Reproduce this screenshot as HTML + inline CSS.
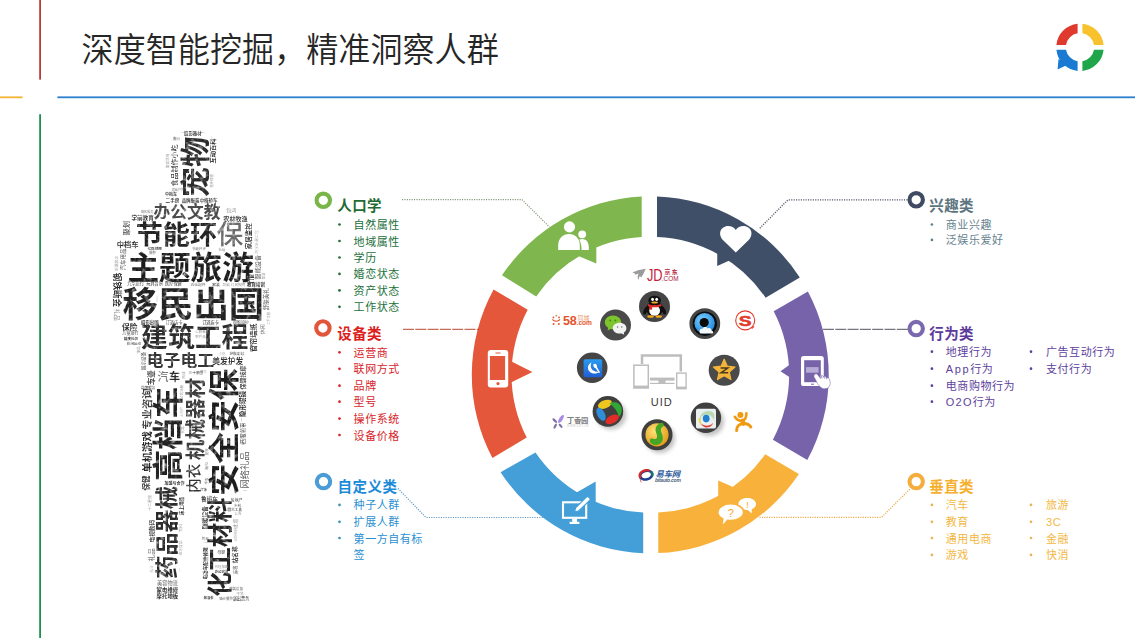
<!DOCTYPE html>
<html lang="zh-CN"><head><meta charset="utf-8"><title>深度智能挖掘，精准洞察人群</title>
<style>
html,body{margin:0;padding:0;background:#fff;}
body{width:1135px;height:638px;overflow:hidden;position:relative;font-family:"Liberation Sans","Noto Sans CJK SC",sans-serif;}
svg{position:absolute;left:0;top:0;}
text{font-family:"Liberation Sans","Noto Sans CJK SC",sans-serif;}
.title{font-size:32.1px;font-weight:350;fill:#262626;}
.h{font-size:14.5px;font-weight:700;letter-spacing:0.45px;}
.it{font-size:11px;letter-spacing:0.55px;}
</style></head><body>
<svg width="1135" height="638" viewBox="0 0 1135 638">
<!-- frame lines -->
<rect x="39.2" y="0" width="1.8" height="79.6" fill="#b83b35"/>
<rect x="0" y="96.4" width="22.6" height="1.8" fill="#f2b535"/>
<rect x="57.4" y="96.4" width="1078" height="1.8" fill="#2b7fcf"/>
<rect x="39.2" y="114.2" width="1.8" height="524" fill="#1f8f4e"/>
<text class="title" transform="translate(0 48.7) scale(1 1.07) translate(0 -48.5)" x="81.6" y="61">深度智能挖掘，精准洞察人群</text>
<!--LOGO-->
<path d="M1077.60 23.72 A23.7 23.7 0 0 0 1056.42 44.90 L1066.00 44.90 A14.2 14.2 0 0 1 1077.60 33.30 Z" fill="#e0392d"/>
<path d="M1082.40 23.72 A23.7 23.7 0 0 1 1103.58 44.90 L1094.00 44.90 A14.2 14.2 0 0 0 1082.40 33.30 Z" fill="#f8c22e"/>
<path d="M1082.40 70.88 A23.7 23.7 0 0 0 1103.58 49.70 L1094.00 49.70 A14.2 14.2 0 0 1 1082.40 61.30 Z" fill="#1fa64a"/>
<path d="M1077.60 70.88 A23.7 23.7 0 0 1 1056.42 49.70 L1066.00 49.70 A14.2 14.2 0 0 0 1077.60 61.30 Z" fill="#1b7bd3"/>
<polygon points="1058.5,59 1057.6,69.6 1068,64.5" fill="#1b7bd3"/>
<!--RING-->
<path d="M657.0 196.4 A178.5 178.5 0 0 1 799.8 277.4 L765.6 297.7 A138.0 138.0 0 0 0 657.0 237.0 Z" fill="#3f4f67"/>
<polygon points="717.3,250.0 717.2,266.0 730.5,260.0" fill="#3f4f67"/>
<path d="M807.9 291.5 A178.5 178.5 0 0 1 807.3 460.1 L772.9 439.7 A138.0 138.0 0 0 0 773.7 311.2 Z" fill="#7663aa"/>
<polygon points="790.0,364.5 780.5,371.3 790.0,377.5" fill="#7663aa"/>
<path d="M798.9 474.0 A178.5 178.5 0 0 1 658.3 553.1 L658.3 512.5 A138.0 138.0 0 0 0 765.2 454.3 Z" fill="#f8b13a"/>
<polygon points="733.4,488.6 732.0,486.4 718.2,480.4 718.2,498.0" fill="#f8b13a"/>
<path d="M643.2 553.2 A178.5 178.5 0 0 1 500.6 472.2 L535.5 452.4 A138.0 138.0 0 0 0 643.2 512.6 Z" fill="#449fd8"/>
<polygon points="595.7,504.0 595.7,481.5 576.6,492.4 575.4,494.4" fill="#449fd8"/>
<path d="M492.4 458.1 A178.5 178.5 0 0 1 493.6 289.4 L527.7 309.8 A138.0 138.0 0 0 0 526.7 437.6 Z" fill="#e4573a"/>
<polygon points="511.0,361.3 532.4,372.0 511.0,382.6" fill="#e4573a"/>
<path d="M502.0 275.3 A178.5 178.5 0 0 1 641.7 196.5 L641.7 237.0 A138.0 138.0 0 0 0 536.2 296.4 Z" fill="#7fb74e"/>
<polygon points="578.2,254.2 579.6,256.5 596.3,263.6 596.3,243.5" fill="#7fb74e"/>
<!--ICONS-->

<!-- people (green) -->
<g fill="#fff">
<circle cx="569.5" cy="226.9" r="5.6"/>
<path d="M558.2 250 V245 C558.2 238.5 563 234 569 234 C575 234 579.8 238.5 579.8 245 V250 Z"/>
<circle cx="582.2" cy="234.3" r="3.9"/>
<path d="M581.6 250 C581.6 245.5 580.6 242 579.2 239.6 C580.2 239.2 581.2 239 582.4 239 C586.4 239 588.8 242.6 588.8 247 V250 Z"/>
</g>
<!-- heart (navy) -->
<path fill="#fff" d="M735.8 252.6 L723.4 240.6 C718.3 235.4 719.2 228.2 725.4 226.4 C729.6 225.3 733.8 226.8 735.8 230 C737.8 226.8 742 225.3 746.2 226.4 C752.4 228.2 753.3 235.4 748.2 240.6 Z"/>
<!-- tablet + hand (purple) -->
<rect x="801" y="356" width="22.8" height="30" rx="2.6" fill="#fff"/>
<rect x="804.2" y="360.2" width="16.6" height="22" fill="#7663aa"/>
<rect x="806" y="367.1" width="12.6" height="5.6" fill="#b7abd8"/>
<rect x="811.2" y="383.7" width="2.6" height="1.1" fill="#7663aa"/>
<path fill="#fff" stroke="#7663aa" stroke-width="0.5" d="M814.6 374.4 C815.6 373.4 817 373.8 817.8 374.9 L820.6 378.6 L820.2 376 C821 375 822.2 375 822.9 375.9 L823.6 377 C824.3 376 825.5 376.1 826.2 377 L826.9 378.2 C827.7 377.5 828.8 377.8 829.3 378.8 C830.6 381.6 830.6 384.6 829.2 386.6 C827.6 388.8 824.4 389.4 822 388.2 C820.4 387.4 819 385.6 817.6 383.6 L814.2 377.2 C813.7 376.2 813.8 375.2 814.6 374.4 Z"/>
<path d="M821.2 375.6 L822.2 378.4 M823.7 375.9 L824.5 378.6 M826 376.8 L826.5 379.2" stroke="#7663aa" stroke-width="0.7" fill="none"/>
<!-- bubbles (orange) -->
<g>
<path fill="#fff" d="M747.2 498 C752.2 498 756.1 500.7 756.1 504 C756.1 506.2 754.4 508.1 751.9 509.2 L751.6 513.6 L747.9 510 C747.7 510 747.4 510 747.2 510 C742.2 510 738.3 507.3 738.3 504 C738.3 500.7 742.2 498 747.2 498 Z"/>
<path fill="#fff" stroke="#f8b13a" stroke-width="1.6" d="M730.7 503.8 C737.8 503.8 743.6 507.6 743.6 512.2 C743.6 516.8 737.8 520.6 730.7 520.6 C729.6 520.6 728.6 520.5 727.6 520.3 L721.6 527 L722.8 518.9 C719.9 517.4 717.8 515 717.8 512.2 C717.8 507.6 723.6 503.8 730.7 503.8 Z"/>
<text x="730.9" y="517" font-size="11" font-weight="400" fill="#f5a623" text-anchor="middle" style="font-family:'Liberation Sans',sans-serif">?</text>
<text x="747.4" y="507.8" font-size="9" font-weight="400" fill="#f5a623" text-anchor="middle" style="font-family:'Liberation Sans',sans-serif">!</text>
</g>
<!-- monitor + pencil (blue) -->
<g>
<rect x="563" y="502.3" width="23.2" height="15.5" fill="none" stroke="#fff" stroke-width="2.1"/>
<rect x="572.2" y="518.6" width="4.8" height="3.4" fill="#fff"/>
<rect x="569.6" y="521.8" width="9.8" height="2.2" fill="#fff"/>
<path d="M574.6 511.8 L575.6 507.9 L586.3 497.2 C587 496.5 588 496.5 588.7 497.2 L589.6 498.1 C590.3 498.8 590.3 499.8 589.6 500.5 L578.6 511 Z" fill="#fff" stroke="#449fd8" stroke-width="1.1"/>
</g>
<!-- phone (red) -->
<g>
<rect x="487.8" y="350" width="20.4" height="37.4" rx="3" fill="#fff"/>
<rect x="489.9" y="356" width="15.2" height="24" fill="#e4573a"/>
<circle cx="498" cy="383.6" r="1.6" fill="#e4573a"/>
<rect x="495.3" y="352.6" width="5.4" height="1" rx="0.5" fill="#e4573a"/>
</g>

<!--CENTER-->

<defs>
<filter id="sh" x="-40%" y="-40%" width="190%" height="190%"><feGaussianBlur stdDeviation="2.2"/></filter>
<radialGradient id="gBlue" cx="40%" cy="35%" r="70%"><stop offset="0" stop-color="#7fd0ff"/><stop offset="1" stop-color="#1c86e0"/></radialGradient>
<radialGradient id="gGold" cx="40%" cy="35%" r="70%"><stop offset="0" stop-color="#ffe27a"/><stop offset="1" stop-color="#e09a12"/></radialGradient>
</defs>
<!-- devices -->
<g fill="none" stroke="#bdbdbd">
<path d="M642 364 V355.6 H680.8 V371.5" stroke-width="2.5"/>
<rect x="650" y="377.6" width="24.5" height="3" fill="#bdbdbd" stroke="none"/>
<rect x="650" y="382.8" width="24.5" height="1.2" fill="#bdbdbd" stroke="none"/>
<rect x="658.5" y="380" width="7" height="3" fill="#bdbdbd" stroke="none"/>
<rect x="633.9" y="365.2" width="14.4" height="22.8" stroke-width="1.5" fill="#fff"/>
<rect x="633.9" y="385.6" width="14.4" height="2.4" fill="#bdbdbd" stroke="none"/>
<rect x="676.7" y="373.1" width="9.4" height="15.6" stroke-width="1.4" fill="#fff"/>
<rect x="676.7" y="386.6" width="9.4" height="2" fill="#bdbdbd" stroke="none"/>
</g>
<text x="661.8" y="406" font-size="11" fill="#3a3a3a" text-anchor="middle" letter-spacing="1">UID</text>

<!-- JD -->
<g>
<path d="M632.4 272.6 L638 270.2 L645.8 268.8 L643.6 273.6 L641.2 277.6 L639.8 276 L638.2 280 L637.6 276.2 L638.6 273.4 L635.4 274.8 L634.6 273.2 Z" fill="#9a9c9c"/>
<text transform="translate(646.9 280.9) scale(0.8 1)" font-size="16" font-weight="400" fill="#c4203a" style="font-family:'Liberation Sans',sans-serif">JD</text>
<text x="664.4" y="273.9" font-size="5.9" font-weight="700" fill="#b8243e" letter-spacing="1.5">京东</text>
<text x="661.8" y="280.9" font-size="6.4" font-weight="400" fill="#a8203c" letter-spacing="0" style="font-family:'Liberation Sans',sans-serif">.COM</text>
</g>
<!-- 58 -->
<g fill="#e2552c">
<circle cx="553.4" cy="317.4" r="0.9"/><circle cx="559" cy="317.4" r="0.9"/><circle cx="556.2" cy="315.8" r="0.8"/>
<path d="M552 319.4 C553.5 322.4 558.9 322.4 560.4 319.4 L559.4 319 C558.2 321.2 554.2 321.2 553 319 Z"/>
<circle cx="553.6" cy="324" r="1"/><circle cx="558.8" cy="324" r="1"/>
<text x="563" y="324.9" font-size="12.6" font-weight="700" letter-spacing="-0.2" style="font-family:'Liberation Sans',sans-serif">58</text>
<text x="577.8" y="320" font-size="5.6" letter-spacing="0.3" fill="#e98f62">同城</text>
<text x="576.6" y="325" font-size="6.6" font-weight="700" style="font-family:'Liberation Sans',sans-serif">.com</text>
</g>
<!-- sogou -->
<g>
<circle cx="745.2" cy="320.4" r="9.5" fill="#fff" stroke="#e23a2c" stroke-width="1.1"/>
<path d="M751.6 328.6 L754.2 326.4" stroke="#e23a2c" stroke-width="1.2"/>
<text x="745" y="326" font-size="15.4" font-weight="700" fill="#e23a2c" stroke="#e23a2c" stroke-width="0.5" text-anchor="middle" transform="translate(745.2 -0.3) scale(1.25 1) translate(-745 0)" style="font-family:'Liberation Sans',sans-serif">S</text>
</g>
<!-- dingxiangyuan -->
<g>
<ellipse cx="561" cy="419" rx="1.7" ry="4.6" transform="rotate(32 561 419)" fill="#a88be6"/>
<ellipse cx="554.8" cy="420.6" rx="1.3" ry="3" transform="rotate(-48 554.8 420.6)" fill="#7f73a8"/>
<ellipse cx="555.2" cy="426.2" rx="1.2" ry="2.8" transform="rotate(28 555.2 426.2)" fill="#7f73a8"/>
<ellipse cx="560.6" cy="425.8" rx="1.2" ry="2.6" transform="rotate(-42 560.6 425.8)" fill="#7f73a8"/>
<text x="566.8" y="422.8" font-size="7.4" font-weight="700" fill="#808080" letter-spacing="-0.3">丁香园</text>
<text x="567" y="426.9" font-size="2.6" fill="#c4c4c4" letter-spacing="0.45" style="font-family:'Liberation Sans',sans-serif">WWW.DXY.CN</text>
</g>
<!-- bitauto -->
<g>
<g transform="rotate(-14 646.2 475.1)">
<ellipse cx="646.2" cy="475.1" rx="6.1" ry="4.3" fill="#fff" stroke="#1d3f8f" stroke-width="2.6"/>
<path d="M640.2 476.4 A6.1 4.3 0 0 1 650.6 472" fill="none" stroke="#d6262d" stroke-width="2.4"/>
<path d="M651.4 472.6 A6.1 4.3 0 0 1 651.6 477.4" fill="none" stroke="#17786a" stroke-width="2.2"/>
</g>
<path d="M640 478.6 L641.2 482.4" stroke="#d6262d" stroke-width="0.7"/>
<text x="655.6" y="476.6" font-size="8.3" font-weight="700" font-style="italic" fill="#2c5c9c" letter-spacing="-0.2">易车网</text>
<text x="655" y="481.5" font-size="5" font-style="italic" font-weight="700" fill="#4a5f7c" letter-spacing="-0.25" style="font-family:'Liberation Sans',sans-serif">bitauto.com</text>
</g>
<!-- dianping -->
<g fill="none" stroke="#f09a12" stroke-linecap="round" stroke-linejoin="round">
<circle cx="740.4" cy="415" r="3" fill="#f09a12" stroke="none"/>
<path d="M734.8 416.8 C736.6 419.6 739.6 421.2 742.6 420.6 C745.2 419.8 746.4 416.6 746.4 413.2" stroke-width="2.6"/>
<path d="M742.4 420.8 L743.6 423.6" stroke-width="4.4"/>
<path d="M736.6 430.6 C736.4 426.6 739.4 423.4 743.6 423.4 C746.8 423.4 749.6 424.8 750.8 427" stroke-width="3"/>
</g>
<!-- app circles -->
<g>
<!-- QQ -->
<circle cx="654.5" cy="306.5" r="15.5" fill="#454545"/>
<g transform="translate(654.5 307.4) scale(1.28 1.03) translate(-654.5 -308.4)">
<ellipse cx="647.6" cy="311.4" rx="1.5" ry="4" transform="rotate(18 647.6 311.4)" fill="#111"/><ellipse cx="661.6" cy="311.4" rx="1.5" ry="4" transform="rotate(-18 661.6 311.4)" fill="#111"/>
<ellipse cx="654.6" cy="309.8" rx="6.6" ry="7.4" fill="#111"/>
<ellipse cx="654.6" cy="301.6" rx="4.9" ry="4.6" fill="#111"/>
<ellipse cx="654.6" cy="311.6" rx="4.2" ry="5" fill="#fff"/>
<ellipse cx="653" cy="300.6" rx="1.1" ry="1.6" fill="#fff"/><ellipse cx="656.2" cy="300.6" rx="1.1" ry="1.6" fill="#fff"/>
<ellipse cx="654.6" cy="303.6" rx="2.6" ry="1" fill="#f5a81c"/>
<path d="M649.6 305 C652.6 306.8 656.6 306.8 659.6 305 L660 307 C657 308.8 652.2 308.8 649.2 307 Z" fill="#e22b26"/>
<rect x="650.4" y="306.6" width="2.2" height="4" fill="#e22b26"/>
<ellipse cx="651.4" cy="317.2" rx="2.6" ry="1.2" fill="#f5a81c"/><ellipse cx="657.8" cy="317.2" rx="2.6" ry="1.2" fill="#f5a81c"/>
</g>
<!-- WeChat -->
<circle cx="615.5" cy="325.1" r="15.5" fill="#4a4a4a"/>
<path d="M613 315.6 C617.6 315.6 621.2 318.6 621.2 322.4 C621.2 326.2 617.6 329.2 613 329.2 C612.2 329.2 611.4 329.1 610.6 328.9 L607.6 330.6 L608.2 327.8 C606.2 326.6 604.8 324.6 604.8 322.4 C604.8 318.6 608.4 315.6 613 315.6 Z" fill="#7cc52c"/>
<circle cx="610.2" cy="320.6" r="1" fill="#4d8a12"/><circle cx="615.4" cy="320.6" r="1" fill="#4d8a12"/>
<path d="M619.6 322.8 C623.4 322.8 626.4 325.2 626.4 328.2 C626.4 330 625.4 331.5 623.8 332.5 L624.2 334.8 L621.8 333.4 C621.1 333.5 620.4 333.6 619.6 333.6 C615.8 333.6 612.8 331.2 612.8 328.2 C612.8 325.2 615.8 322.8 619.6 322.8 Z" fill="#f2f2f2"/>
<circle cx="617.6" cy="327" r="0.8" fill="#777"/><circle cx="621.8" cy="327" r="0.8" fill="#777"/>
<!-- QQ browser -->
<circle cx="704.8" cy="323.7" r="15.4" fill="#454545"/>
<circle cx="704.8" cy="323.7" r="12.2" fill="#0b0b0b"/>
<circle cx="704.6" cy="323.2" r="10.2" fill="url(#gBlue)"/>
<circle cx="704.2" cy="322.6" r="4.6" fill="#0b0b0b"/>
<path d="M699.6 332 C699 329.6 700.8 328.2 702.6 328.8 C703.4 326.6 706.6 326.4 707.6 328.4 C709.2 327.2 711.6 328.4 711.4 330.4 C713.4 330.6 713.8 333 712 333.6 L700.6 333.6 C699.8 333.4 699.6 332.6 699.6 332 Z" fill="#f4f8fb"/>
<!-- blue Q app -->
<circle cx="592.2" cy="367.8" r="15.3" fill="#454545"/>
<linearGradient id="gQ" x1="0" y1="0" x2="0" y2="1"><stop offset="0" stop-color="#2a9cef"/><stop offset="1" stop-color="#1f5fd6"/></linearGradient>
<rect x="583.6" y="359.2" width="18.6" height="18" rx="1.6" fill="url(#gQ)"/>
<path d="M591.6 362.6 C587.6 364.2 586.6 369.2 590 372 C593 374.4 597.6 373.8 599.6 371.4 C596.4 372.2 592.8 371.4 591.4 368.6 C590.4 366.6 590.6 364.2 591.6 362.6 Z" fill="#fff"/>
<path d="M593.4 364.2 C594.6 363.2 596.4 363.6 596.8 365.2 L597 367 L600 372.4 L599 373 L595.6 368.2 C594 368 593 366 593.4 364.2 Z" fill="#fff"/>
<!-- Qzone -->
<circle cx="724.2" cy="370.3" r="15.5" fill="#4a4a4a"/>
<path d="M724.2 359.2 L727.3 366.2 L735 367 L729.3 372.1 L730.9 379.6 L724.2 375.8 L717.5 379.6 L719.1 372.1 L713.4 367 L721.1 366.2 Z" fill="#f4b43a" stroke="#f4b43a" stroke-width="1.2" stroke-linejoin="round"/>
<path d="M720.6 368 H727.8 L721 372.8 H728.2" fill="none" stroke="#4a3a1a" stroke-width="1.5"/>
<!-- pinwheel -->
<ellipse cx="611.2" cy="415" rx="15" ry="14.6" fill="#000" opacity="0.24" filter="url(#sh)"/>
<circle cx="607.9" cy="411.4" r="15.3" fill="#3f3f3f"/>
<ellipse cx="604.9" cy="404.3" rx="7.3" ry="4" transform="rotate(-22 604.9 404.3)" fill="#f0c61e"/>
<path d="M609.6 403.6 C613.6 400.6 619.8 402.4 621.4 407.2 C622.4 410.6 621.4 414.4 618.8 417 C617.6 411.6 614.6 407.4 609.6 403.6 Z" fill="#2fa836"/>
<ellipse cx="612.2" cy="419.3" rx="7.3" ry="4" transform="rotate(-28 612.2 419.3)" fill="#e22c27"/>
<ellipse cx="601" cy="414.2" rx="3.8" ry="7.1" transform="rotate(-28 601 414.2)" fill="#2f8edb"/>
<!-- QQ music -->
<ellipse cx="660" cy="438.4" rx="15" ry="14.6" fill="#000" opacity="0.24" filter="url(#sh)"/>
<circle cx="657" cy="434.8" r="15.5" fill="#3f3f3f"/>
<circle cx="657" cy="434.8" r="11.6" fill="url(#gGold)"/>
<path d="M662.6 422.6 C657.6 423.6 654.6 427.4 655.8 431.6 C656.6 434.4 657.8 436.2 656.8 438 C655.8 439.6 654 439 652.6 438.4 C650.2 437.4 648.8 440.8 650.8 443 C653.6 446 659.4 445.6 661.8 441.8 C664 438.4 662.4 435 661.4 432.4 C660.4 429.6 661 427 664.2 425.4 Z" fill="#43a626"/>
<!-- weibo -->
<ellipse cx="709" cy="421.4" rx="15" ry="14.6" fill="#000" opacity="0.24" filter="url(#sh)"/>
<circle cx="705.9" cy="417.8" r="15.2" fill="#3f3f3f"/>
<rect x="696" y="408.8" width="20" height="19.6" rx="1.6" fill="#e9eef0"/>
<path d="M699.6 420 C699.6 413 706 409.6 711.6 411.6 C714.6 413 715.2 417 713.6 420 C712.2 415 706 413 701.6 416.4 C700.4 417.6 699.8 418.8 699.6 420 Z" fill="#b9d8b0"/>
<path d="M698.8 418 C698.2 421.6 699.6 424.6 702.6 426 C700.6 423.4 700.2 420.4 701.2 417.4 Z" fill="#e8d84a"/>
<ellipse cx="706.2" cy="418.6" rx="3.4" ry="3.8" fill="#1f7fd0"/>
<path d="M701.2 423.6 C704.2 426.6 710.2 426.2 713 423 C712.4 426.2 708.6 428 705 427.2 C703.2 426.8 701.8 425.4 701.2 423.6 Z" fill="#e0382c"/>
<path d="M702 421.4 C704.4 424.4 709.4 424.4 711.4 421.6 C710.8 424.4 703.6 425.6 702 421.4 Z" fill="#fff"/>
</g>

<!--LABELS-->
<circle cx="323.3" cy="200.3" r="6.7" fill="#fff" stroke="#7ab547" stroke-width="4.1"/>
<text class="h" x="337.2" y="210.8" fill="#1f6b32">人口学</text>
<circle cx="339.5" cy="224.5" r="1.35" fill="#23703a"/>
<text class="it" x="353.6" y="229" fill="#23703a">自然属性</text>
<circle cx="339.5" cy="241.0" r="1.35" fill="#23703a"/>
<text class="it" x="353.6" y="245.5" fill="#23703a">地域属性</text>
<circle cx="339.5" cy="257.5" r="1.35" fill="#23703a"/>
<text class="it" x="353.6" y="262" fill="#23703a">学历</text>
<circle cx="339.5" cy="273.9" r="1.35" fill="#23703a"/>
<text class="it" x="353.6" y="278.4" fill="#23703a">婚恋状态</text>
<circle cx="339.5" cy="290.4" r="1.35" fill="#23703a"/>
<text class="it" x="353.6" y="294.9" fill="#23703a">资产状态</text>
<circle cx="339.5" cy="306.8" r="1.35" fill="#23703a"/>
<text class="it" x="353.6" y="311.3" fill="#23703a">工作状态</text>
<circle cx="322.9" cy="328" r="6.7" fill="#fff" stroke="#e2553a" stroke-width="4.1"/>
<text class="h" x="337.2" y="338.8" fill="#dc1f1f">设备类</text>
<circle cx="339.5" cy="352.3" r="1.35" fill="#d8242a"/>
<text class="it" x="353.6" y="356.8" fill="#d8242a">运营商</text>
<circle cx="339.5" cy="368.8" r="1.35" fill="#d8242a"/>
<text class="it" x="353.6" y="373.3" fill="#d8242a">联网方式</text>
<circle cx="339.5" cy="385.7" r="1.35" fill="#d8242a"/>
<text class="it" x="353.6" y="390.2" fill="#d8242a">品牌</text>
<circle cx="339.5" cy="401.7" r="1.35" fill="#d8242a"/>
<text class="it" x="353.6" y="406.2" fill="#d8242a">型号</text>
<circle cx="339.5" cy="418.6" r="1.35" fill="#d8242a"/>
<text class="it" x="353.6" y="423.1" fill="#d8242a">操作系统</text>
<circle cx="339.5" cy="435.0" r="1.35" fill="#d8242a"/>
<text class="it" x="353.6" y="439.5" fill="#d8242a">设备价格</text>
<circle cx="323.5" cy="481.6" r="6.7" fill="#fff" stroke="#4b9cd6" stroke-width="4.1"/>
<text class="h" x="337.6" y="491.7" fill="#1b8ad8">自定义类</text>
<circle cx="339.5" cy="504.9" r="1.35" fill="#3a8fc4"/>
<text class="it" x="353.6" y="509.4" fill="#2b90d2">种子人群</text>
<circle cx="339.5" cy="521.8" r="1.35" fill="#3a8fc4"/>
<text class="it" x="353.6" y="526.3" fill="#2b90d2">扩展人群</text>
<circle cx="339.5" cy="538.0" r="1.35" fill="#3a8fc4"/>
<text class="it" x="353.6" y="542.5" fill="#2b90d2">第一方自有标</text>
<text class="it" x="353.6" y="559.4" fill="#2b90d2">签</text>
<circle cx="916.2" cy="199.8" r="6.7" fill="#fff" stroke="#3f4a63" stroke-width="4.1"/>
<text class="h" x="929.2" y="210.8" fill="#5d7580">兴趣类</text>
<circle cx="931.9" cy="224.5" r="1.35" fill="#64828e"/>
<text class="it" x="945.8" y="229" fill="#64828e">商业兴趣</text>
<circle cx="931.9" cy="239.9" r="1.35" fill="#64828e"/>
<text class="it" x="945.8" y="244.4" fill="#64828e">泛娱乐爱好</text>
<circle cx="916.2" cy="328.6" r="6.7" fill="#fff" stroke="#7a69af" stroke-width="4.1"/>
<text class="h" x="929.2" y="338.8" fill="#5b3a9c">行为类</text>
<circle cx="931.9" cy="351.7" r="1.35" fill="#5d3f9d"/>
<text class="it" x="945.8" y="356.2" fill="#5d3f9d">地理行为</text>
<circle cx="931.9" cy="368.7" r="1.35" fill="#5d3f9d"/>
<text class="it" x="945.8" y="373.2" fill="#5d3f9d"><tspan letter-spacing="1.6">App</tspan>行为</text>
<circle cx="931.9" cy="385.7" r="1.35" fill="#5d3f9d"/>
<text class="it" x="945.8" y="390.2" fill="#5d3f9d">电商购物行为</text>
<circle cx="931.9" cy="401.7" r="1.35" fill="#5d3f9d"/>
<text class="it" x="945.8" y="406.2" fill="#5d3f9d"><tspan letter-spacing="1.25">O2O</tspan>行为</text>
<circle cx="1031" cy="351.7" r="1.35" fill="#5d3f9d"/>
<text class="it" x="1046" y="356.2" fill="#5d3f9d">广告互动行为</text>
<circle cx="1031" cy="368.7" r="1.35" fill="#5d3f9d"/>
<text class="it" x="1046" y="373.2" fill="#5d3f9d">支付行为</text>
<circle cx="916.2" cy="481.6" r="6.7" fill="#fff" stroke="#f3ae3d" stroke-width="4.1"/>
<text class="h" x="929.2" y="491.7" fill="#f5b030">垂直类</text>
<circle cx="931.9" cy="504.9" r="1.35" fill="#e8b45a"/>
<text class="it" x="945.8" y="509.4" fill="#f3b743">汽车</text>
<circle cx="931.9" cy="521.8" r="1.35" fill="#e8b45a"/>
<text class="it" x="945.8" y="526.3" fill="#f3b743">教育</text>
<circle cx="931.9" cy="538.0" r="1.35" fill="#e8b45a"/>
<text class="it" x="945.8" y="542.5" fill="#f3b743">通用电商</text>
<circle cx="931.9" cy="554.9" r="1.35" fill="#e8b45a"/>
<text class="it" x="945.8" y="559.4" fill="#f3b743">游戏</text>
<circle cx="1031" cy="504.9" r="1.35" fill="#e8b45a"/>
<text class="it" x="1046" y="509.4" fill="#f3b743">旅游</text>
<circle cx="1031" cy="521.8" r="1.35" fill="#e8b45a"/>
<text class="it" x="1046" y="526.3" fill="#f3b743">3C</text>
<circle cx="1031" cy="538.0" r="1.35" fill="#e8b45a"/>
<text class="it" x="1046" y="542.5" fill="#f3b743">金融</text>
<circle cx="1031" cy="554.9" r="1.35" fill="#e8b45a"/>
<text class="it" x="1046" y="559.4" fill="#f3b743">快消</text>
<polyline points="402,199.6 521.9,199.6 549.5,227" fill="none" stroke="#7f9473" stroke-width="1.2" stroke-dasharray="1.1 1.3"/>
<polyline points="403,329.3 479,329.3" fill="none" stroke="#b8472f" stroke-width="1.0" stroke-dasharray="11 1.3"/>
<polyline points="398,488.5 426,517.5 544,517.5" fill="none" stroke="#5a95c4" stroke-width="1.2" stroke-dasharray="1.1 1.3"/>
<polyline points="907.5,199.8 788,199.8 759,229" fill="none" stroke="#4a5262" stroke-width="1.3" stroke-dasharray="1.1 1.3"/>
<polyline points="823,329.3 908,329.3" fill="none" stroke="#55525f" stroke-width="1.0" stroke-dasharray="11 1.3"/>
<polyline points="759.5,517.4 881.4,517.4 910,489" fill="none" stroke="#eaa53c" stroke-width="1.2" stroke-dasharray="1.1 1.3"/>
<!--CLOUD-->
<filter id="tx" x="0" y="0" width="100%" height="100%" filterUnits="objectBoundingBox"><feTurbulence type="fractalNoise" baseFrequency="0.22" numOctaves="3" seed="7" result="n"/><feColorMatrix in="n" type="matrix" values="0 0 0 0 0  0 0 0 0 0  0 0 0 0 0  1.5 0 0 0 0.24" result="m"/><feComposite in="SourceGraphic" in2="m" operator="in"/></filter>
<g class="cloud" filter="url(#tx)">
<text transform="translate(195.2 167.0) rotate(-90) scale(1.03 1)" y="10.66" font-size="29.6" font-weight="700" fill="#2b2b2b" text-anchor="middle">宠物</text>
<text transform="translate(187.0 212.3)" y="6.05" font-size="16.8" font-weight="700" fill="#484848" text-anchor="middle">办公文教</text>
<text transform="translate(176.4 234.8) scale(1.02 1)" y="9.58" font-size="26.6" font-weight="700" fill="#222" text-anchor="middle">节能环</text>
<text transform="translate(230.0 234.8)" y="9.58" font-size="26.6" font-weight="500" fill="#6a6a6a" text-anchor="middle">保</text>
<text transform="translate(190.6 267.6)" y="11.38" font-size="31.6" font-weight="700" fill="#1c1c1c" text-anchor="middle">主题旅游</text>
<text transform="translate(193.4 304.6) scale(1.012 1)" y="12.60" font-size="35" font-weight="700" fill="#222" text-anchor="middle">移民出国</text>
<text transform="translate(194.7 337.6)" y="9.65" font-size="26.8" font-weight="700" fill="#2a2a2a" text-anchor="middle">建筑工程</text>
<text transform="translate(180.4 360.6) scale(1.035 1)" y="5.87" font-size="16.3" font-weight="700" fill="#333" text-anchor="middle">电子电工</text>
<text transform="translate(227.8 361.4)" y="2.81" font-size="7.8" font-weight="700" fill="#333" text-anchor="middle">美发护发</text>
<text transform="translate(223.7 432.0) rotate(-90) scale(1.02 1)" y="11.23" font-size="31.2" font-weight="700" fill="#1e1e1e" text-anchor="middle">安全安保</text>
<text transform="translate(168.6 434.0) rotate(-90) scale(1.04 1)" y="10.87" font-size="30.2" font-weight="700" fill="#222" text-anchor="middle">高档车</text>
<text transform="translate(195.3 419.0) rotate(-90)" y="7.42" font-size="20.6" font-weight="700" fill="#3a3a3a" text-anchor="middle">机械器材</text>
<text transform="translate(146.8 451.9) rotate(-90)" y="3.71" font-size="10.3" font-weight="700" fill="#222" text-anchor="middle">单机游戏</text>
<text transform="translate(147.0 409.0) rotate(-90)" y="3.67" font-size="10.2" font-weight="700" fill="#3c3c3c" text-anchor="middle">专业咨询</text>
<text transform="translate(194.2 478.3) rotate(-90)" y="5.18" font-size="14.4" font-weight="500" fill="#333" text-anchor="middle">内衣</text>
<text transform="translate(166.4 532.4) rotate(-90) scale(1.025 1)" y="8.14" font-size="22.6" font-weight="700" fill="#2a2a2a" text-anchor="middle">药品器械</text>
<text transform="translate(220.6 547.2) rotate(-90)" y="8.89" font-size="24.7" font-weight="700" fill="#222" text-anchor="middle">化工材料</text>
<text transform="translate(192.8 133.4)" y="1.58" font-size="4.4" font-weight="700" fill="#444" text-anchor="middle">摄影器材</text>
<text transform="translate(183.5 133.4)" y="1.44" font-size="4" font-weight="400" fill="#8a8a8a" text-anchor="middle">一</text>
<text transform="translate(202.5 133.4)" y="1.44" font-size="4" font-weight="400" fill="#8a8a8a" text-anchor="middle">一</text>
<text transform="translate(176.5 139.0)" y="1.15" font-size="3.2" font-weight="700" fill="#666" text-anchor="middle">数码</text>
<text transform="translate(174.6 165.5) rotate(-90)" y="2.52" font-size="7" font-weight="500" fill="#3a3a3a" text-anchor="middle">食品制作小吃</text>
<text transform="translate(167.2 161.0) rotate(-90)" y="1.30" font-size="3.6" font-weight="400" fill="#8a8a8a" text-anchor="middle">聚会活动</text>
<text transform="translate(212.4 151.0) rotate(-90)" y="2.23" font-size="6.2" font-weight="700" fill="#333" text-anchor="middle">互动百科</text>
<text transform="translate(211.5 138.0)" y="1.08" font-size="3" font-weight="400" fill="#8a8a8a" text-anchor="middle">丨</text>
<text transform="translate(212.0 181.0) rotate(-90)" y="1.22" font-size="3.4" font-weight="400" fill="#8a8a8a" text-anchor="middle">花卉绿植</text>
<text transform="translate(178.0 190.0)" y="1.15" font-size="3.2" font-weight="400" fill="#666" text-anchor="middle">运动户外</text>
<text transform="translate(171.0 194.3)" y="1.44" font-size="4" font-weight="700" fill="#444" text-anchor="middle">中档车</text>
<text transform="translate(172.5 200.4)" y="1.66" font-size="4.6" font-weight="700" fill="#333" text-anchor="middle">二手房</text>
<text transform="translate(190.5 200.4)" y="1.58" font-size="4.4" font-weight="700" fill="#444" text-anchor="middle">品牌服装</text>
<text transform="translate(208.5 200.4)" y="1.58" font-size="4.4" font-weight="700" fill="#333" text-anchor="middle">中档轿车</text>
<text transform="translate(147.0 211.6)" y="1.15" font-size="3.2" font-weight="400" fill="#8a8a8a" text-anchor="middle">婚庆服务</text>
<text transform="translate(142.6 218.0)" y="2.02" font-size="5.6" font-weight="700" fill="#333" text-anchor="middle">学前教育</text>
<text transform="translate(126.5 228.2) rotate(-90)" y="2.66" font-size="7.4" font-weight="500" fill="#555" text-anchor="middle">聚划</text>
<text transform="translate(127.7 244.0)" y="2.63" font-size="7.3" font-weight="700" fill="#2a2a2a" text-anchor="middle">中档车</text>
<text transform="translate(123.0 259.5) rotate(-90)" y="1.94" font-size="5.4" font-weight="500" fill="#666" text-anchor="middle">汽车用品</text>
<text transform="translate(116.6 263.3) rotate(-90)" y="1.37" font-size="3.8" font-weight="400" fill="#8a8a8a" text-anchor="middle">彩票投注</text>
<text transform="translate(154.7 248.4)" y="1.30" font-size="3.6" font-weight="700" fill="#444" text-anchor="middle">七匹狼网</text>
<text transform="translate(152.5 253.0)" y="1.30" font-size="3.6" font-weight="400" fill="#666" text-anchor="middle">摄影</text>
<text transform="translate(199.0 249.2)" y="1.22" font-size="3.4" font-weight="400" fill="#666" text-anchor="middle">节能环评</text>
<text transform="translate(222.0 249.6)" y="1.22" font-size="3.4" font-weight="400" fill="#8a8a8a" text-anchor="middle">低碳</text>
<text transform="translate(231.3 210.4)" y="1.80" font-size="5" font-weight="400" fill="#8a8a8a" text-anchor="middle">包鸿</text>
<text transform="translate(235.5 218.5)" y="2.20" font-size="6.1" font-weight="700" fill="#3a3a3a" text-anchor="middle">农林牧渔</text>
<text transform="translate(249.0 236.3) rotate(-90)" y="2.34" font-size="6.5" font-weight="700" fill="#333" text-anchor="middle">家居监控</text>
<text transform="translate(256.2 242.0) rotate(-90)" y="1.40" font-size="3.9" font-weight="400" fill="#aaa" text-anchor="middle">防水补漏工程</text>
<text transform="translate(258.2 267.2) rotate(-90)" y="2.20" font-size="6.1" font-weight="500" fill="#666" text-anchor="middle">智能设备</text>
<text transform="translate(263.6 276.0) rotate(-90)" y="1.22" font-size="3.4" font-weight="400" fill="#8a8a8a" text-anchor="middle">保洁</text>
<text transform="translate(251.0 278.5) rotate(-90)" y="1.58" font-size="4.4" font-weight="700" fill="#222" text-anchor="middle">门窗</text>
<text transform="translate(135.6 283.4)" y="1.51" font-size="4.2" font-weight="500" fill="#444" text-anchor="middle">九华旅行</text>
<text transform="translate(154.6 283.4)" y="1.51" font-size="4.2" font-weight="500" fill="#444" text-anchor="middle">玩具音乐</text>
<text transform="translate(173.4 283.4)" y="1.51" font-size="4.2" font-weight="500" fill="#444" text-anchor="middle">医疗保健</text>
<text transform="translate(198.0 284.2)" y="1.37" font-size="3.8" font-weight="400" fill="#666" text-anchor="middle">五金配件</text>
<text transform="translate(216.0 284.2)" y="1.37" font-size="3.8" font-weight="500" fill="#444" text-anchor="middle">家装</text>
<text transform="translate(226.0 284.2)" y="1.37" font-size="3.8" font-weight="400" fill="#666" text-anchor="middle">卫浴</text>
<text transform="translate(238.0 284.2)" y="1.30" font-size="3.6" font-weight="400" fill="#8a8a8a" text-anchor="middle">灯具照明</text>
<text transform="translate(256.0 284.3)" y="1.62" font-size="4.5" font-weight="700" fill="#2a2a2a" text-anchor="middle">教育培训</text>
<text transform="translate(149.8 322.2)" y="1.58" font-size="4.4" font-weight="700" fill="#444" text-anchor="middle">摄影出国</text>
<text transform="translate(174.0 322.2)" y="1.51" font-size="4.2" font-weight="500" fill="#666" text-anchor="middle">订酒店卡</text>
<text transform="translate(210.5 322.3)" y="1.51" font-size="4.2" font-weight="500" fill="#444" text-anchor="middle">订酒店卡</text>
<text transform="translate(241.0 322.3)" y="1.44" font-size="4.0" font-weight="500" fill="#666" text-anchor="middle">摄影婚纱</text>
<text transform="translate(117.0 290.0) rotate(90)" y="3.10" font-size="8.6" font-weight="700" fill="#2a2a2a" text-anchor="middle">钢铁断金</text>
<text transform="translate(117.0 314.7) rotate(90)" y="2.16" font-size="6" font-weight="400" fill="#8a8a8a" text-anchor="middle">礼品</text>
<text transform="translate(129.7 327.0)" y="2.77" font-size="7.7" font-weight="700" fill="#2a2a2a" text-anchor="middle">保险</text>
<text transform="translate(130.5 334.0)" y="1.48" font-size="4.1" font-weight="500" fill="#666" text-anchor="middle">儿童旅行</text>
<text transform="translate(131.0 338.6)" y="1.30" font-size="3.6" font-weight="700" fill="#222" text-anchor="middle">婚庆礼仪</text>
<text transform="translate(134.0 343.2)" y="1.30" font-size="3.6" font-weight="500" fill="#444" text-anchor="middle">休闲运动</text>
<text transform="translate(157.0 298.5)" y="2.16" font-size="6" font-weight="400" fill="#aaa" text-anchor="middle">丨</text>
<text transform="translate(139.0 350.0) rotate(-90)" y="1.30" font-size="3.6" font-weight="400" fill="#8a8a8a" text-anchor="middle">饰品</text>
<text transform="translate(266.2 299.3) rotate(-90)" y="1.98" font-size="5.5" font-weight="500" fill="#666" text-anchor="middle">舒肤美礼</text>
<text transform="translate(268.6 318.5) rotate(-90)" y="1.15" font-size="3.2" font-weight="400" fill="#8a8a8a" text-anchor="middle">二手交易</text>
<text transform="translate(261.7 329.3) rotate(-90)" y="1.80" font-size="5" font-weight="500" fill="#8a8a8a" text-anchor="middle">休闲</text>
<text transform="translate(253.9 337.8) rotate(-90)" y="2.56" font-size="7.1" font-weight="700" fill="#3c3c3c" text-anchor="middle">窗帘墙纸</text>
<text transform="translate(200.5 332.0)" y="1.26" font-size="3.5" font-weight="400" fill="#8a8a8a" text-anchor="middle">公积金</text>
<text transform="translate(200.5 336.5)" y="1.26" font-size="3.5" font-weight="400" fill="#8a8a8a" text-anchor="middle">农产品</text>
<text transform="translate(237.0 353.7)" y="1.37" font-size="3.8" font-weight="500" fill="#444" text-anchor="middle">护肤彩妆</text>
<text transform="translate(222.0 353.7)" y="1.22" font-size="3.4" font-weight="400" fill="#aaa" text-anchor="middle">小吃</text>
<text transform="translate(143.4 361.0) rotate(-90)" y="1.62" font-size="4.5" font-weight="500" fill="#666" text-anchor="middle">展示设备</text>
<text transform="translate(163.0 377.2)" y="3.96" font-size="11" font-weight="500" fill="#777" text-anchor="middle">汽</text>
<text transform="translate(174.6 377.2)" y="3.96" font-size="11" font-weight="700" fill="#2a2a2a" text-anchor="middle">车</text>
<text transform="translate(150.8 377.8) rotate(90)" y="2.74" font-size="7.6" font-weight="700" fill="#444" text-anchor="middle">豪车</text>
<text transform="translate(148.0 387.4)" y="1.30" font-size="3.6" font-weight="500" fill="#444" text-anchor="middle">品牌服装</text>
<text transform="translate(195.9 372.6)" y="1.33" font-size="3.7" font-weight="500" fill="#444" text-anchor="middle">三十集团</text>
<text transform="translate(184.0 375.0) rotate(-90)" y="1.22" font-size="3.4" font-weight="400" fill="#8a8a8a" text-anchor="middle">网球</text>
<text transform="translate(182.0 392.0) rotate(-90)" y="1.30" font-size="3.6" font-weight="400" fill="#8a8a8a" text-anchor="middle">公司注册</text>
<text transform="translate(182.0 412.0) rotate(-90)" y="1.30" font-size="3.6" font-weight="400" fill="#aaa" text-anchor="middle">土特产</text>
<text transform="translate(182.4 430.0) rotate(-90)" y="1.30" font-size="3.6" font-weight="400" fill="#8a8a8a" text-anchor="middle">代驾</text>
<text transform="translate(203.5 372.0)" y="1.15" font-size="3.2" font-weight="400" fill="#aaa" text-anchor="middle">房车</text>
<text transform="translate(242.6 377.6) rotate(-90)" y="2.16" font-size="6.0" font-weight="700" fill="#444" text-anchor="middle">保健按摩</text>
<text transform="translate(242.6 404.0) rotate(-90)" y="2.34" font-size="6.5" font-weight="700" fill="#2a2a2a" text-anchor="middle">隐形眼镜</text>
<text transform="translate(242.6 419.8) rotate(-90)" y="1.44" font-size="4" font-weight="400" fill="#666" text-anchor="middle">一</text>
<text transform="translate(242.6 433.3) rotate(-90)" y="1.94" font-size="5.4" font-weight="500" fill="#666" text-anchor="middle">西服领带</text>
<text transform="translate(243.0 443.5)" y="1.30" font-size="3.6" font-weight="400" fill="#666" text-anchor="middle">在</text>
<text transform="translate(244.7 470.0) rotate(-90)" y="3.35" font-size="9.3" font-weight="400" fill="#5a5a5a" text-anchor="middle">网络礼品</text>
<text transform="translate(245.0 492.0)" y="1.44" font-size="4" font-weight="400" fill="#8a8a8a" text-anchor="middle">一</text>
<text transform="translate(146.2 483.0) rotate(-90)" y="2.74" font-size="7.6" font-weight="700" fill="#2a2a2a" text-anchor="middle">保健</text>
<text transform="translate(150.0 503.0) rotate(-90)" y="1.40" font-size="3.9" font-weight="400" fill="#8a8a8a" text-anchor="middle">十二星座</text>
<text transform="translate(174.5 483.4)" y="1.44" font-size="4.0" font-weight="700" fill="#2a2a2a" text-anchor="middle">加盟与合作</text>
<text transform="translate(206.5 452.0) rotate(-90)" y="1.30" font-size="3.6" font-weight="400" fill="#8a8a8a" text-anchor="middle">童装</text>
<text transform="translate(206.8 466.0) rotate(-90)" y="1.37" font-size="3.8" font-weight="400" fill="#8a8a8a" text-anchor="middle">箱包</text>
<text transform="translate(206.5 481.0) rotate(-90)" y="1.30" font-size="3.6" font-weight="400" fill="#666" text-anchor="middle">手表</text>
<text transform="translate(203.6 489.5)" y="1.22" font-size="3.4" font-weight="500" fill="#444" text-anchor="middle">灯饰</text>
<text transform="translate(209.5 499.3)" y="2.02" font-size="5.6" font-weight="700" fill="#444" text-anchor="middle">鲁班车</text>
<text transform="translate(236.6 500.2)" y="1.44" font-size="4" font-weight="500" fill="#666" text-anchor="middle">房地产</text>
<text transform="translate(237.5 505.2)" y="1.30" font-size="3.6" font-weight="500" fill="#666" text-anchor="middle">水利</text>
<text transform="translate(234.6 509.7)" y="1.30" font-size="3.6" font-weight="500" fill="#444" text-anchor="middle">园艺工具</text>
<text transform="translate(238.0 514.2)" y="1.22" font-size="3.4" font-weight="400" fill="#8a8a8a" text-anchor="middle">公告</text>
<text transform="translate(235.6 523.5) rotate(-90)" y="1.66" font-size="4.6" font-weight="400" fill="#8a8a8a" text-anchor="middle">土壤</text>
<text transform="translate(204.5 517.6) rotate(-90)" y="2.09" font-size="5.8" font-weight="700" fill="#444" text-anchor="middle">取暖设备</text>
<text transform="translate(204.6 502.5)" y="1.44" font-size="4" font-weight="400" fill="#666" text-anchor="middle">一</text>
<text transform="translate(181.5 506.0) rotate(-90)" y="1.66" font-size="4.6" font-weight="700" fill="#333" text-anchor="middle">床上用品</text>
<text transform="translate(180.2 528.0) rotate(-90)" y="1.37" font-size="3.8" font-weight="400" fill="#8a8a8a" text-anchor="middle">饮料</text>
<text transform="translate(180.2 548.0) rotate(-90)" y="1.37" font-size="3.8" font-weight="400" fill="#aaa" text-anchor="middle">速冻食品</text>
<text transform="translate(180.0 570.0) rotate(-90)" y="1.30" font-size="3.6" font-weight="400" fill="#8a8a8a" text-anchor="middle">一</text>
<text transform="translate(151.8 531.2) rotate(-90)" y="2.02" font-size="5.6" font-weight="700" fill="#4a4a4a" text-anchor="middle">电视数码</text>
<text transform="translate(152.0 554.8) rotate(-90)" y="2.38" font-size="6.6" font-weight="500" fill="#777" text-anchor="middle">礼品</text>
<text transform="translate(151.6 569.0) rotate(-90)" y="1.30" font-size="3.6" font-weight="400" fill="#aaa" text-anchor="middle">纸业</text>
<text transform="translate(167.4 583.5)" y="1.87" font-size="5.2" font-weight="500" fill="#777" text-anchor="middle">美容物流</text>
<text transform="translate(167.4 589.8)" y="1.94" font-size="5.4" font-weight="700" fill="#2a2a2a" text-anchor="middle">家电维修</text>
<text transform="translate(167.4 596.2)" y="1.94" font-size="5.4" font-weight="700" fill="#2a2a2a" text-anchor="middle">摩托地板</text>
<text transform="translate(205.6 563.4) rotate(-90)" y="1.66" font-size="4.6" font-weight="700" fill="#2a2a2a" text-anchor="middle">电动车配件修理</text>
<text transform="translate(205.5 539.0)" y="1.22" font-size="3.4" font-weight="400" fill="#666" text-anchor="middle">钓具</text>
<text transform="translate(205.5 543.6)" y="1.44" font-size="4" font-weight="400" fill="#666" text-anchor="middle">一</text>
<text transform="translate(235.2 554.8) rotate(-90)" y="2.05" font-size="5.7" font-weight="700" fill="#333" text-anchor="middle">站名称</text>
<text transform="translate(235.4 533.0) rotate(-90)" y="1.22" font-size="3.4" font-weight="400" fill="#aaa" text-anchor="middle">无纺布制品</text>
<text transform="translate(235.3 570.0) rotate(-90)" y="1.51" font-size="4.2" font-weight="500" fill="#666" text-anchor="middle">麻将</text>
<text transform="translate(221.2 553.0)" y="1.44" font-size="4" font-weight="500" fill="#666" text-anchor="middle">母婴</text>
<text transform="translate(221.5 567.0)" y="1.22" font-size="3.4" font-weight="400" fill="#8a8a8a" text-anchor="middle">代理加盟</text>
<text transform="translate(221.5 571.8)" y="1.22" font-size="3.4" font-weight="700" fill="#444" text-anchor="middle">办公家具</text>
<text transform="translate(236.0 589.0)" y="1.26" font-size="3.5" font-weight="500" fill="#666" text-anchor="middle">灌装设备</text>
<text transform="translate(240.0 593.4)" y="1.26" font-size="3.5" font-weight="400" fill="#8a8a8a" text-anchor="middle">干洗</text>
<text transform="translate(226.0 598.4)" y="1.22" font-size="3.4" font-weight="400" fill="#666" text-anchor="middle">婚纱摄影</text>
<text transform="translate(241.0 598.3)" y="1.51" font-size="4.2" font-weight="500" fill="#444" text-anchor="middle">演出票务</text>
<text transform="translate(208.6 597.6)" y="1.15" font-size="3.2" font-weight="700" fill="#222" text-anchor="middle">烟酒茶</text>
</g>
</svg>
</body></html>
